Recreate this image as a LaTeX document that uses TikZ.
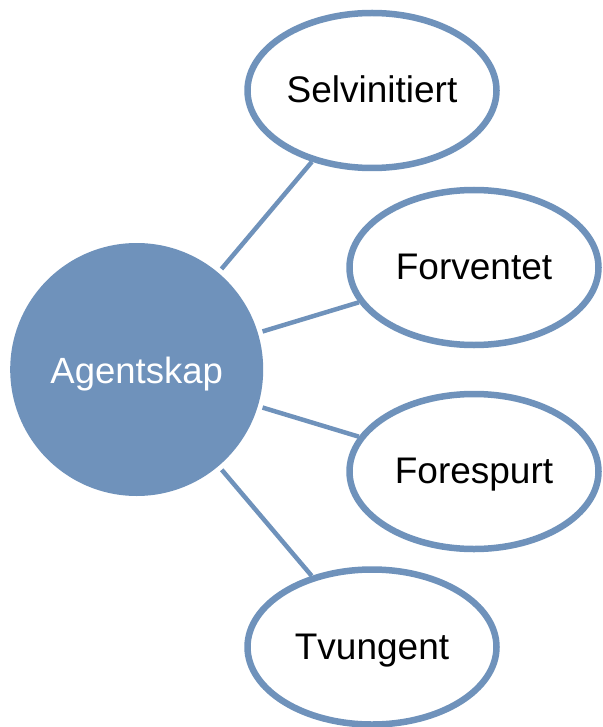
\documentclass[tikz,border=0pt]{standalone}
\usepackage{fontspec}
\setmainfont{Liberation Sans}
\usetikzlibrary{shapes.geometric}
\definecolor{accent}{RGB}{111,146,187}
\begin{document}
\begin{tikzpicture}[x=1pt,y=-1pt,
  hub/.style={circle,fill=accent,inner sep=0pt,minimum size=253pt,outer sep=5pt,
    text=white,font=\fontsize{36.5}{40}\selectfont,text height=27pt,text depth=-8pt},
  leaf/.style={ellipse,draw=accent,fill=white,line width=6.5pt,inner sep=0pt,
    minimum width=249pt,minimum height=155pt,text=black,
    font=\fontsize{37}{40}\selectfont,text height=27pt,text depth=3pt},
  link/.style={draw=accent,line width=4.5pt}]
\useasboundingbox (0,0) rectangle (602,727);
\node[hub] (a) at (136.7,369.5) {Agentskap};
\node[leaf] (s) at (372,90.5) {Selvinitiert};
\node[leaf] (f) at (474,267.5) {Forventet};
\node[leaf] (p) at (474,471.5) {Forespurt};
\node[leaf] (t) at (372,647) {Tvungent};
\begin{scope}[on background layer/.style={}]
\end{scope}
\draw[link] (a) -- (s);
\draw[link] (a) -- (f);
\draw[link] (a) -- (p);
\draw[link] (a) -- (t);
\end{tikzpicture}
\end{document}
